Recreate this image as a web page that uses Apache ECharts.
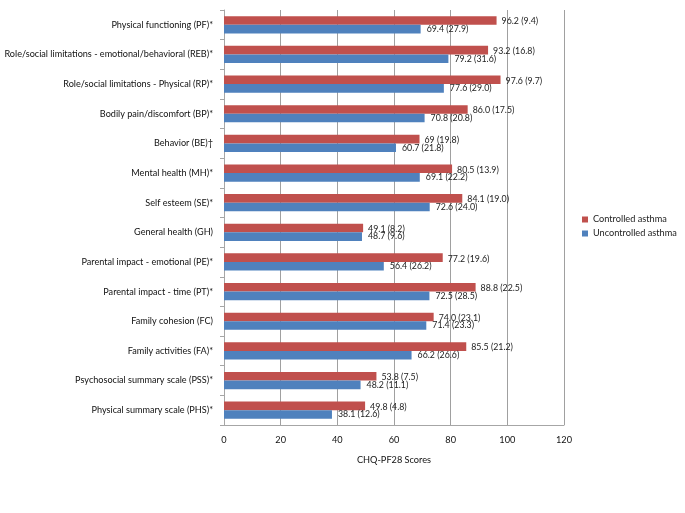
<!DOCTYPE html>
<html>
<head>
<meta charset="utf-8">
<script src="https://cdn.jsdelivr.net/npm/echarts@6/dist/echarts.min.js"></script>
<style>
html,body{margin:0;padding:0;background:#fff;}
#chart{width:685px;height:513px;}
</style>
</head>
<body>
<div id="chart"></div>
<script>
const categories = [
  "Physical functioning (PF)*",
  "Role/social limitations - emotional/behavioral (REB)*",
  "Role/social limitations - Physical (RP)*",
  "Bodily pain/discomfort (BP)*",
  "Behavior (BE)\u2020",
  "Mental health (MH)*",
  "Self esteem (SE)*",
  "General health (GH)",
  "Parental impact - emotional (PE)*",
  "Parental impact - time (PT)*",
  "Family cohesion (FC)",
  "Family activities (FA)*",
  "Psychosocial summary scale (PSS)*",
  "Physical summary scale (PHS)*"
];
const controlledValues = [96.2, 93.2, 97.6, 86.0, 69, 80.5, 84.1, 49.1, 77.2, 88.8, 74.0, 85.5, 53.8, 49.8];
const controlledLabels = ["96.2 (9.4)", "93.2 (16.8)", "97.6 (9.7)", "86.0 (17.5)", "69 (19.8)", "80.5 (13.9)", "84.1 (19.0)", "49.1 (8.2)", "77.2 (19.6)", "88.8 (22.5)", "74.0 (23.1)", "85.5 (21.2)", "53.8 (7.5)", "49.8 (4.8)"];
const uncontrolledValues = [69.4, 79.2, 77.6, 70.8, 60.7, 69.1, 72.6, 48.7, 56.4, 72.5, 71.4, 66.2, 48.2, 38.1];
const uncontrolledLabels = ["69.4 (27.9)", "79.2 (31.6)", "77.6 (29.0)", "70.8 (20.8)", "60.7 (21.8)", "69.1 (22.2)", "72.6 (24.0)", "48.7 (9.6)", "56.4 (26.2)", "72.5 (28.5)", "71.4 (23.3)", "66.2 (26.6)", "48.2 (11.1)", "38.1 (12.6)"];
const xTicks = [0, 20, 40, 60, 80, 100, 120];

const FONT = "Lato";
const chart = echarts.init(document.getElementById('chart'));
chart.setOption({
  animation: false,
  textStyle: {fontFamily: FONT},
  grid: {left: 224, right: 121, top: 10, bottom: 88, containLabel: false, outerBoundsMode: 'none'},
  legend: {
    orient: 'vertical',
    left: 577, top: 210,
    icon: 'rect', itemWidth: 6, itemHeight: 6, itemGap: 5,
    textStyle: {fontFamily: FONT, fontSize: 9.2, color: '#222'},
    data: ['Controlled asthma', 'Uncontrolled asthma']
  },
  xAxis: {
    type: 'value', min: xTicks[0], max: xTicks[xTicks.length-1], interval: 20,
    name: 'CHQ-PF28 Scores', nameLocation: 'middle', nameGap: 31,
    nameTextStyle: {fontFamily: FONT, fontSize: 9.2, color: '#111'},
    axisLine: {show: true, lineStyle: {color: '#a6a6a6'}},
    axisTick: {show: false},
    axisLabel: {fontFamily: FONT, fontSize: 9.2, color: '#111', margin: 11},
    splitLine: {show: true, lineStyle: {color: '#a0a0a0', width: 1}}
  },
  yAxis: {
    type: 'category', inverse: true, data: categories,
    axisLine: {show: true, lineStyle: {color: '#a6a6a6'}},
    axisTick: {show: true, length: 4, lineStyle: {color: '#a6a6a6'}},
    axisLabel: {fontFamily: FONT, fontSize: 9.1, color: '#111', margin: 11}
  },
  series: [
    {
      name: 'Controlled asthma', type: 'bar', data: controlledValues,
      itemStyle: {color: '#C0504D'},
      barGap: '0%', barCategoryGap: '42%',
      label: {show: true, position: 'right', distance: 5, fontFamily: FONT, fontSize: 8.8, color: '#222',
        offset: [0, 1],
        formatter: p => controlledLabels[p.dataIndex]}
    },
    {
      name: 'Uncontrolled asthma', type: 'bar', data: uncontrolledValues,
      itemStyle: {color: '#4F81BD'},
      barGap: '0%', barCategoryGap: '42%',
      label: {show: true, position: 'right', distance: 6, fontFamily: FONT, fontSize: 8.8, color: '#222',
        formatter: p => uncontrolledLabels[p.dataIndex]}
    }
  ]
});
</script>
</body>
</html>
